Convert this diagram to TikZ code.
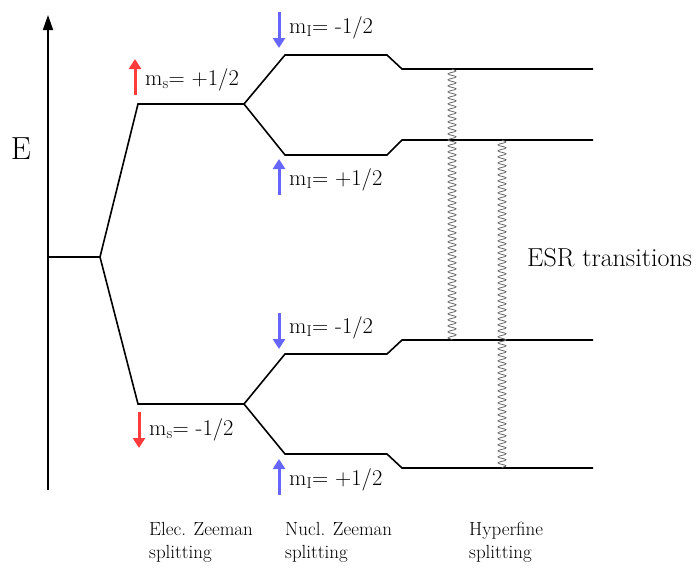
\documentclass[tikz,border=0pt]{standalone}
\usepackage{fontspec}
\usetikzlibrary{decorations.pathmorphing,arrows.meta}
\definecolor{spinred}{HTML}{FF3B3B}
\definecolor{spinblue}{HTML}{6666FF}
\begin{document}
\begin{tikzpicture}[x=1pt,y=-1pt,
  level/.style={line width=1.6pt,black,line join=miter},
  wave/.style={draw=gray!80!black,line width=0.8pt,decorate,decoration={snake,amplitude=4pt,segment length=6pt}},
  spinarrow/.style={line width=3pt,-{Triangle[length=10pt,width=12pt]}},
  lab/.style={anchor=base west,inner sep=0pt,font=\fontsize{22.5}{25}\selectfont},
  captext/.style={anchor=north west,inner sep=0pt,align=left,font=\fontsize{19}{23}\selectfont}]
\useasboundingbox (0,0) rectangle (698,570);
% axis
\coordinate (ax0) at (48,490);
\coordinate (ax1) at (48,15);
\draw[line width=1.6pt,-{Triangle[length=15pt,width=10pt]}] (ax0) -- (ax1);
\node[font=\fontsize{32}{36}\selectfont,inner sep=0pt,anchor=base] (E) at (21,159) {E};
% levels
\coordinate (g0) at (48,257); \coordinate (g1) at (100,257);
\coordinate (u0) at (138,104); \coordinate (u1) at (244,104);
\coordinate (d0) at (138,404); \coordinate (d1) at (244,404);
\draw[level] (g0) -- (g1) -- (u0) -- (u1);
\draw[level] (g1) -- (d0) -- (d1);
% nuclear splitting
\coordinate (uu0) at (285,55); \coordinate (uu1) at (387,55); \coordinate (uu2) at (402,69); \coordinate (uu3) at (593,69);
\coordinate (ud0) at (285,155); \coordinate (ud1) at (387,155); \coordinate (ud2) at (402,140); \coordinate (ud3) at (593,140);
\coordinate (du0) at (285,354); \coordinate (du1) at (387,354); \coordinate (du2) at (402,340); \coordinate (du3) at (593,340);
\coordinate (dd0) at (285,454); \coordinate (dd1) at (387,454); \coordinate (dd2) at (402,468); \coordinate (dd3) at (593,468);
\draw[level] (u1) -- (uu0) -- (uu1) -- (uu2) -- (uu3);
\draw[level] (u1) -- (ud0) -- (ud1) -- (ud2) -- (ud3);
\draw[level] (d1) -- (du0) -- (du1) -- (du2) -- (du3);
\draw[level] (d1) -- (dd0) -- (dd1) -- (dd2) -- (dd3);
% ESR transitions
\coordinate (w1a) at (452,69); \coordinate (w1b) at (452,340);
\coordinate (w2a) at (502,140); \coordinate (w2b) at (502,468);
\draw[wave] (w1a) -- (w1b);
\draw[wave] (w2a) -- (w2b);
\node[anchor=base west,inner sep=0pt,font=\fontsize{26}{28}\selectfont] (esr) at (527,266) {ESR transitions};
% electron spin arrows
\coordinate (ra0) at (135,95); \coordinate (ra1) at (135,59);
\draw[spinarrow,spinred] (ra0) -- (ra1);
\node[lab] (ms1) at (145,85) {m$_{\mathrm{s}}$= +1/2};
\coordinate (rb0) at (139,412); \coordinate (rb1) at (139,448);
\draw[spinarrow,spinred] (rb0) -- (rb1);
\node[lab] (ms2) at (149,435) {m$_{\mathrm{s}}$= -1/2};
% nuclear spin arrows
\coordinate (ba0) at (279,12); \coordinate (ba1) at (279,48);
\draw[spinarrow,spinblue] (ba0) -- (ba1);
\node[lab] (mi1) at (289,33) {m$_{\mathrm{I}}$= -1/2};
\coordinate (bb0) at (279,195); \coordinate (bb1) at (279,159);
\draw[spinarrow,spinblue] (bb0) -- (bb1);
\node[lab] (mi2) at (289,185) {m$_{\mathrm{I}}$= +1/2};
\coordinate (bc0) at (279,313); \coordinate (bc1) at (279,349);
\draw[spinarrow,spinblue] (bc0) -- (bc1);
\node[lab] (mi3) at (289,333) {m$_{\mathrm{I}}$= -1/2};
\coordinate (bd0) at (279,495); \coordinate (bd1) at (279,459);
\draw[spinarrow,spinblue] (bd0) -- (bd1);
\node[lab] (mi4) at (289,485) {m$_{\mathrm{I}}$= +1/2};
% captions
\node[captext] (c1) at (149,522) {Elec. Zeeman\\splitting};
\node[captext] (c2) at (285,522) {Nucl. Zeeman\\splitting};
\node[captext] (c3) at (469,522) {Hyperfine\\splitting};
\end{tikzpicture}
\end{document}
